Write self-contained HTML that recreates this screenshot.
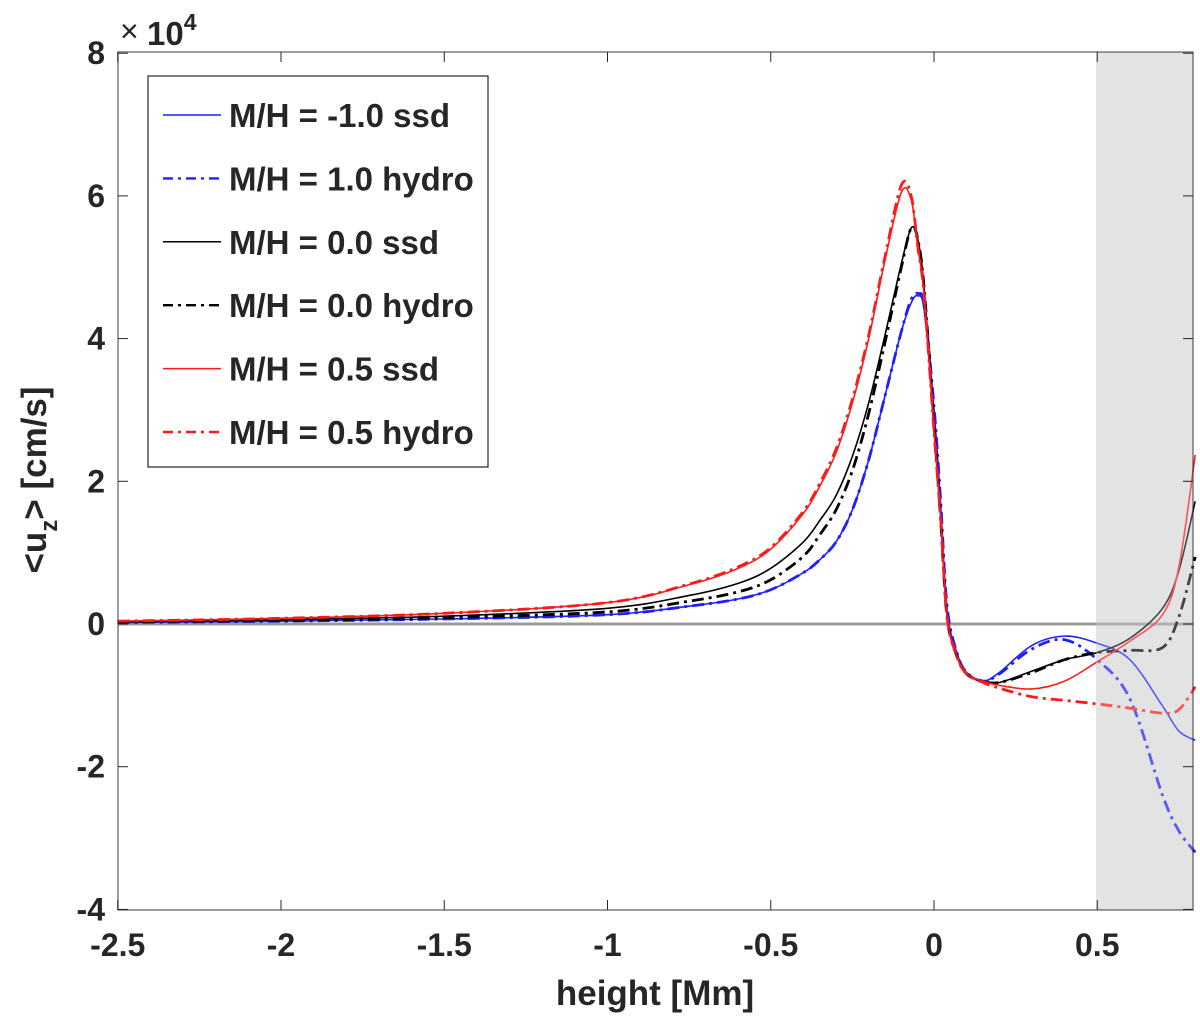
<!DOCTYPE html>
<html><head><meta charset="utf-8"><style>
body{margin:0;background:#fff}
svg text{font-family:"Liberation Sans",Arial,sans-serif;font-weight:bold;fill:#262626}
</style></head><body>
<svg id="chart" width="1200" height="1025" xmlns="http://www.w3.org/2000/svg">
<rect x="1096" y="52" width="97" height="858" fill="#e3e3e3"/>
<line x1="118" y1="624" x2="1193" y2="624" stroke="#9a9a9a" stroke-width="3"/>
<g id="series"></g>
<rect x="1096" y="52" width="97" height="858" fill="#e3e3e3" opacity="0.3"/>
<rect x="118" y="52" width="1075" height="858" fill="none" stroke="#262626" stroke-width="1.3" opacity="0.7"/>
<g id="ticks"></g>
<text x="120" y="42" font-size="32" style="font-weight:normal">×</text>
<text x="147" y="45" font-size="33">10<tspan dy="-15" font-size="23">4</tspan></text>
<text x="655" y="1005" font-size="35" text-anchor="middle">height [Mm]</text>
<text transform="translate(46,480) rotate(-90)" font-size="35" text-anchor="middle">&lt;u<tspan dy="11" font-size="24">z</tspan><tspan dy="-11">&gt; [cm/s]</tspan></text>
<g>
<rect x="148" y="76" width="340" height="391" fill="#fff" stroke="#262626" stroke-width="1.2"/>
<g id="legend-items"></g>
</g>
</svg>
<script>
const xs=[-2.5,-2,-1.5,-1,-0.75,-0.6,-0.5,-0.4,-0.35,-0.3,-0.25,-0.2,-0.15,-0.1,-0.07,-0.05,-0.03,0,0.02,0.04,0.07,0.1,0.15,0.2,0.3,0.4,0.5,0.6,0.7,0.75,0.8];
const blueSsd=[0.02,0.04,0.07,0.13,0.25,0.35,0.48,0.72,0.9,1.15,1.6,2.3,3.2,4.1,4.5,4.6,4.4,3.0,1.7,0.2,-0.4,-0.68,-0.8,-0.68,-0.3,-0.17,-0.27,-0.5,-1.15,-1.5,-1.63];
const blueHydro=[0.02,0.04,0.07,0.13,0.25,0.35,0.48,0.72,0.9,1.15,1.6,2.3,3.2,4.1,4.55,4.63,4.45,3.05,1.75,0.25,-0.4,-0.68,-0.8,-0.7,-0.35,-0.22,-0.5,-1.05,-2.4,-2.9,-3.2];
const blackSsd=[0.03,0.06,0.11,0.22,0.4,0.57,0.78,1.15,1.45,1.8,2.35,3.1,4.05,5.05,5.55,5.4,4.7,2.8,1.5,0.1,-0.45,-0.7,-0.8,-0.82,-0.66,-0.5,-0.4,-0.2,0.22,0.75,1.72];
const blackHydro=[0.03,0.05,0.09,0.17,0.32,0.45,0.62,0.95,1.25,1.6,2.15,2.95,3.95,5.0,5.55,5.4,4.7,2.8,1.5,0.1,-0.45,-0.7,-0.8,-0.82,-0.68,-0.5,-0.4,-0.37,-0.33,0.1,0.94];
const redSsd=[0.04,0.08,0.15,0.3,0.55,0.78,1.05,1.55,1.93,2.4,3.1,4.0,5.1,6.05,5.95,5.3,4.6,2.7,1.5,0.1,-0.45,-0.7,-0.8,-0.86,-0.91,-0.8,-0.53,-0.24,0.13,0.8,2.37];
const redHydro=[0.04,0.08,0.15,0.3,0.56,0.8,1.07,1.58,1.97,2.45,3.15,4.05,5.15,6.15,6.0,5.3,4.6,2.7,1.5,0.1,-0.45,-0.7,-0.82,-0.9,-1.02,-1.07,-1.12,-1.18,-1.25,-1.2,-0.88];
const xTicks=[-2.5,-2,-1.5,-1,-0.5,0,0.5];
const xTickLabels=["-2.5","-2","-1.5","-1","-0.5","0","0.5"];
const yTicks=[-4,-2,0,2,4,6,8];
const yTickLabels=["-4","-2","0","2","4","6","8"];
const legendLabels=["M/H = -1.0 ssd","M/H = 1.0 hydro","M/H = 0.0 ssd","M/H = 0.0 hydro","M/H = 0.5 ssd","M/H = 0.5 hydro"];

const X=v=>934+v*326.5, Y=v=>624-v*71.35;
const NS="http://www.w3.org/2000/svg";
function mk(t,a,p){const e=document.createElementNS(NS,t);for(const k in a)e.setAttribute(k,a[k]);p.appendChild(e);return e;}
function path(vals){
  const p=xs.map((x,i)=>[X(x),Y(vals[i])]);
  let d=`M${p[0][0]},${p[0][1]}`;
  for(let i=0;i<p.length-1;i++){
    const p0=p[Math.max(i-1,0)],p1=p[i],p2=p[i+1],p3=p[Math.min(i+2,p.length-1)];
    const c1=[p1[0]+(p2[0]-p0[0])/6,p1[1]+(p2[1]-p0[1])/6];
    const c2=[p2[0]-(p3[0]-p1[0])/6,p2[1]-(p3[1]-p1[1])/6];
    d+=`C${c1[0]},${c1[1]} ${c2[0]},${c2[1]} ${p2[0]},${p2[1]}`;
  }
  return d;
}
const series=[
 {v:blueSsd,c:"#1f1fff",dash:null,w:1.6,n:"series-blue-ssd"},
 {v:blueHydro,c:"#1f1fff",dash:"12 5 3 5",w:2.8,n:"series-blue-hydro"},
 {v:blackSsd,c:"#000",dash:null,w:1.6,n:"series-black-ssd"},
 {v:blackHydro,c:"#000",dash:"12 5 3 5",w:2.8,n:"series-black-hydro"},
 {v:redSsd,c:"#ff1a1a",dash:null,w:1.6,n:"series-red-ssd"},
 {v:redHydro,c:"#ff1a1a",dash:"12 5 3 5",w:2.8,n:"series-red-hydro"}];
const sg=document.getElementById("series");
series.forEach(s=>{
  const e=mk("path",{d:path(s.v),fill:"none",stroke:s.c,"stroke-width":s.w},sg);
  if(s.dash)e.setAttribute("stroke-dasharray",s.dash);
  
  
});
const tg=document.getElementById("ticks");
xTicks.forEach((v,i)=>{
  const l=mk("line",{x1:X(v),x2:X(v),y1:910,y2:900,stroke:"#262626"},tg);
  
  
  const l2=mk("line",{x1:X(v),x2:X(v),y1:52,y2:62,stroke:"#262626"},tg);
  
  
  const t=mk("text",{x:X(v),y:956,"font-size":32,"text-anchor":"middle"},tg);
  t.textContent=xTickLabels[i];
  
  
});
yTicks.forEach((v,i)=>{
  const l=mk("line",{x1:118,x2:128,y1:Y(v),y2:Y(v),stroke:"#262626"},tg);
  
  
  const l2=mk("line",{x1:1193,x2:1183,y1:Y(v),y2:Y(v),stroke:"#262626"},tg);
  
  
  const t=mk("text",{x:105,y:Y(v)+11,"font-size":32,"text-anchor":"end"},tg);
  t.textContent=yTickLabels[i];
  
  
});
const lg=document.getElementById("legend-items");
legendLabels.forEach((lab,i)=>{
  const y=115+i*63.4, s=series[i];
  const g=mk("g",{},lg);
  
  
  const l=mk("line",{x1:163,x2:221,y1:y,y2:y,stroke:s.c,"stroke-width":s.dash?2.4:1.5},g);
  if(s.dash)l.setAttribute("stroke-dasharray","10 5 3 5");
  const t=mk("text",{x:229,y:y+12,"font-size":33},g);
  t.textContent=lab;
  
  
});
</script>
</body></html>
